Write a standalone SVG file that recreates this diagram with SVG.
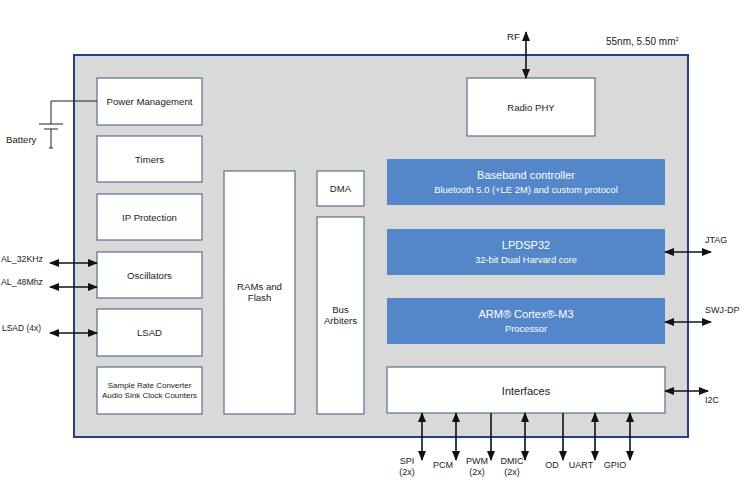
<svg xmlns="http://www.w3.org/2000/svg" width="746" height="489" viewBox="0 0 746 489">
<defs>
<style>
text{font-family:"Liberation Sans",Arial,sans-serif;fill:#222;font-size:9.6px}
.box{fill:#fff;stroke:#5b6f8e;stroke-width:1.2}
.blue{fill:#5387c9;stroke:none}
.wt{fill:#fff;text-anchor:middle}
.c{text-anchor:middle}
.ln{stroke:#111;stroke-width:1.6;fill:none}
.thin{stroke:#222;stroke-width:1;fill:none}
</style>
<marker id="ah" viewBox="0 0 10 10" refX="9" refY="5" markerWidth="10" markerHeight="10" markerUnits="userSpaceOnUse" orient="auto-start-reverse">
<path d="M0,1 L10,5 L0,9 z" fill="#111"/>
</marker>
</defs>
<rect width="746" height="489" fill="#fff"/>
<g id="chip">
<rect x="74" y="55" width="614" height="382" fill="#d9d9d9" stroke="#233f86" stroke-width="2"/>
<text x="606" y="45" style="font-size:10px">55nm, 5.50 mm<tspan style="font-size:6px" dy="-4">2</tspan></text>
</g>
<g id="power"><rect class="box" x="97" y="78" width="105" height="47"/><text class="c" x="149.5" y="105">Power Management</text></g>
<g id="timers"><rect class="box" x="97" y="136" width="105" height="46"/><text class="c" x="149.5" y="163">Timers</text></g>
<g id="ipprot"><rect class="box" x="97" y="194" width="105" height="46"/><text class="c" x="149.5" y="221">IP Protection</text></g>
<g id="osc"><rect class="box" x="97" y="252" width="105" height="46"/><text class="c" x="149.5" y="279">Oscillators</text></g>
<g id="lsad"><rect class="box" x="97" y="309" width="105" height="47"/><text class="c" x="149.5" y="336">LSAD</text></g>
<g id="src"><rect class="box" x="97" y="367" width="105" height="47"/><text class="c" x="149.5" y="388" style="font-size:8px">Sample Rate Converter</text><text class="c" x="149.5" y="398" style="font-size:8px">Audio Sink Clock Counters</text></g>
<g id="ram"><rect class="box" x="224" y="171" width="71" height="243"/><text class="c" x="259.5" y="290">RAMs and</text><text class="c" x="259.5" y="301">Flash</text></g>
<g id="dma"><rect class="box" x="317" y="171" width="47" height="35"/><text class="c" x="340.5" y="192">DMA</text></g>
<g id="bus"><rect class="box" x="317" y="217" width="47" height="197"/><text class="c" x="340.5" y="313">Bus</text><text class="c" x="340.5" y="324">Arbiters</text></g>
<g id="radio"><rect class="box" x="467" y="78" width="128" height="58"/><text class="c" x="531" y="111">Radio PHY</text></g>
<g id="baseband"><rect class="blue" x="387" y="159" width="278" height="46"/><text class="wt" x="526" y="179" style="font-size:11px">Baseband controller</text><text class="wt" x="526" y="193" style="font-size:9.4px">Bluetooth 5.0 (+LE 2M) and custom protocol</text></g>
<g id="lpdsp"><rect class="blue" x="387" y="229" width="278" height="46"/><text class="wt" x="526" y="249" style="font-size:11px">LPDSP32</text><text class="wt" x="526" y="263" style="font-size:9.4px">32-bit Dual Harvard core</text></g>
<g id="arm"><rect class="blue" x="387" y="298" width="278" height="46"/><text class="wt" x="526" y="318" style="font-size:11px">ARM® Cortex®-M3</text><text class="wt" x="526" y="332" style="font-size:9.4px">Processor</text></g>
<g id="interfaces"><rect class="box" x="387" y="367" width="278" height="46"/><text class="c" x="526" y="395" style="font-size:11px">Interfaces</text></g>
<g id="connectors">
<path class="thin" d="M97,101 H51 V124 M39,124 H63 M44,129 H58 M51,129 V148 M49,148 H53"/>
<line class="ln" x1="526" y1="32" x2="526" y2="78" marker-start="url(#ah)" marker-end="url(#ah)"/>
<line class="ln" x1="50" y1="263" x2="97" y2="263" marker-start="url(#ah)" marker-end="url(#ah)"/>
<line class="ln" x1="50" y1="287" x2="97" y2="287" marker-start="url(#ah)" marker-end="url(#ah)"/>
<line class="ln" x1="50" y1="333" x2="97" y2="333" marker-start="url(#ah)" marker-end="url(#ah)"/>
<line class="ln" x1="665" y1="252" x2="711" y2="252" marker-start="url(#ah)" marker-end="url(#ah)"/>
<line class="ln" x1="665" y1="322" x2="711" y2="322" marker-start="url(#ah)" marker-end="url(#ah)"/>
<line class="ln" x1="665" y1="391" x2="708" y2="391" marker-start="url(#ah)" marker-end="url(#ah)"/>
<line class="ln" x1="422" y1="413" x2="422" y2="460" marker-start="url(#ah)" marker-end="url(#ah)"/>
<line class="ln" x1="456" y1="413" x2="456" y2="460" marker-start="url(#ah)" marker-end="url(#ah)"/>
<line class="ln" x1="491" y1="413" x2="491" y2="460" marker-end="url(#ah)"/>
<line class="ln" x1="525" y1="413" x2="525" y2="460" marker-start="url(#ah)" marker-end="url(#ah)"/>
<line class="ln" x1="563" y1="413" x2="563" y2="460" marker-end="url(#ah)"/>
<line class="ln" x1="595" y1="413" x2="595" y2="460" marker-start="url(#ah)" marker-end="url(#ah)"/>
<line class="ln" x1="630" y1="413" x2="630" y2="460" marker-start="url(#ah)" marker-end="url(#ah)"/>
</g>
<g id="labels">
<text x="6" y="143">Battery</text>
<text x="507" y="40">RF</text>
<text x="1" y="262" textLength="42" lengthAdjust="spacingAndGlyphs">AL_32KHz</text>
<text x="1" y="285" textLength="42" lengthAdjust="spacingAndGlyphs">AL_48Mhz</text>
<text x="2" y="331" textLength="39" lengthAdjust="spacingAndGlyphs">LSAD (4x)</text>
<text x="705" y="243" style="font-size:9px">JTAG</text>
<text x="705" y="313" style="font-size:9px">SWJ-DP</text>
<text x="705" y="403" style="font-size:9px">I2C</text>
<g style="font-size:9px">
<text class="c" x="407" y="464" style="font-size:9px">SPI</text><text class="c" x="407" y="475" style="font-size:9px">(2x)</text>
<text class="c" x="443" y="468" style="font-size:9px">PCM</text>
<text class="c" x="477" y="464" style="font-size:9px">PWM</text><text class="c" x="477" y="475" style="font-size:9px">(2x)</text>
<text class="c" x="512" y="464" style="font-size:9px">DMIC</text><text class="c" x="512" y="475" style="font-size:9px">(2x)</text>
<text class="c" x="552" y="468" style="font-size:9px">OD</text>
<text class="c" x="581" y="468" style="font-size:9px">UART</text>
<text class="c" x="615" y="468" style="font-size:9px">GPIO</text>
</g>
</g>
</svg>
